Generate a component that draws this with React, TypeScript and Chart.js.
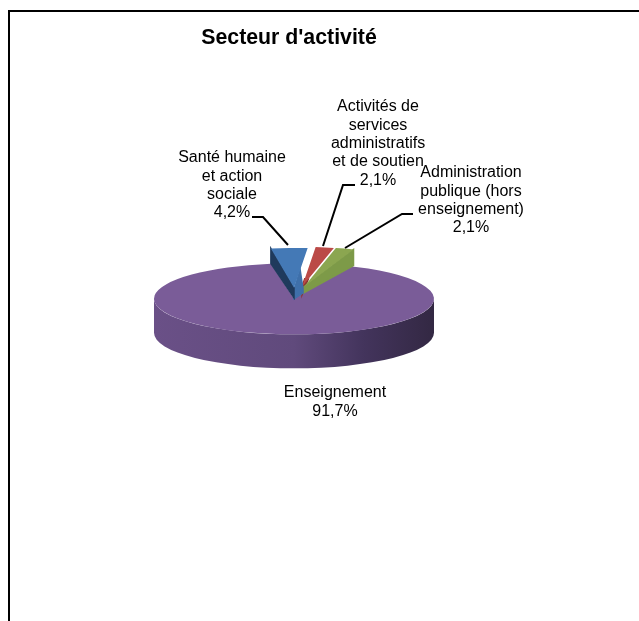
import React, { useEffect, useRef } from "react";
import { Chart, registerables } from "chart.js";

Chart.register(...registerables);

// ---- data ----
const titleText = "Secteur d'activité";
const sectorLabels = [
  ["Santé humaine", "et action", "sociale"],
  ["Activités de", "services", "administratifs", "et de soutien"],
  ["Administration", "publique (hors", "enseignement)"],
  ["Enseignement"],
];
const shareValues = [4.2, 2.1, 2.1, 91.7];
const sliceColors = ["#4479b6", "#bb4a47", "#8ba650", "#7a5c98"];
const faceColors = ["#1f3a5c", "#8a3532", "#7d9a48", "#5f4878"];

// ---- layout (not data) ----
const FONT = '"Liberation Sans", Arial, sans-serif';
const PIE_SHIFT_X = 5;
const TILT = 0.254;
const WEDGE_TILT = 0.285;
const RIM_DEPTH = 34;
const wedgeShift = [[0, -11], [8, -12], [10, -12]];
const wedgeOuterDepth = [15, 0, 16];
const wedgeApexDepth = [10, 8, 6];
const labelAnchors = [
  { x: 232, y: 158 },
  { x: 378, y: 107 },
  { x: 471, y: 173 },
  { x: 335, y: 393 },
];
const LINE_STEP = 18.3;
const leaders = [
  [[252, 217], [263, 217], [288, 245]],
  [[355, 185], [343, 185], [323, 246]],
  [[413, 214], [402, 214], [345, 248]],
];

const pie3d = {
  id: "pie3d",
  beforeDatasetDraw(chart: any) {
    const ctx = chart.ctx;
    const arcs = chart.getDatasetMeta(0).data;
    const main = arcs[3];
    const { x, y, outerRadius: R } = main;

    ctx.save();
    ctx.translate(PIE_SHIFT_X, 0);

    // outer rim of the big slice (front half only)
    const g = ctx.createLinearGradient(x - R, 0, x + R, 0);
    g.addColorStop(0, "#6a5087");
    g.addColorStop(0.5, "#604a7c");
    g.addColorStop(0.75, "#43345c");
    g.addColorStop(1, "#332843");
    ctx.beginPath();
    ctx.ellipse(x, y, R, R * TILT, 0, 0, Math.PI);
    ctx.lineTo(x - R, y + RIM_DEPTH);
    ctx.ellipse(x, y + RIM_DEPTH, R, R * TILT, 0, Math.PI, 0, true);
    ctx.closePath();
    ctx.fillStyle = g;
    ctx.fill();

    // top of big slice
    ctx.save();
    ctx.translate(x, y);
    ctx.scale(1, TILT);
    ctx.translate(-x, -y);
    main.draw(ctx);
    ctx.restore();

    const poly = (pts: number[][], color: string) => {
      ctx.beginPath();
      pts.forEach(([px, py], j) => (j ? ctx.lineTo(px, py) : ctx.moveTo(px, py)));
      ctx.closePath();
      ctx.fillStyle = color;
      ctx.strokeStyle = color;
      ctx.lineWidth = 1.5;
      ctx.fill();
      ctx.stroke();
    };

    // exploded wedges, back to front
    [1, 2, 0].forEach((i) => {
      const arc = arcs[i];
      const ax = arc.x + wedgeShift[i][0];
      const ay = arc.y + wedgeShift[i][1];
      const edge = (angle: number, r: number) => [
        ax + Math.cos(angle) * r,
        ay + Math.sin(angle) * r * WEDGE_TILT,
      ];
      const aD = wedgeApexDepth[i];
      const oD = wedgeOuterDepth[i];
      if (i === 0) {
        const o = edge(arc.startAngle, R);
        poly([[ax, ay + 2], edge(arc.endAngle, R * 0.45), [ax + 9, ay + 1], [ax + 9, ay + 5], [ax, ay + aD + 1]], "#3f70aa");
        poly([[ax, ay], o, [o[0], o[1] + oD], [ax, ay + aD]], faceColors[0]);
      } else if (i === 2) {
        const o = edge(arc.endAngle, R);
        poly([[ax, ay], o, [o[0], o[1] + oD], [ax, ay + aD]], faceColors[2]);
      } else {
        poly([[ax, ay], edge(arc.startAngle, R * 0.2), edge(arc.endAngle, R * 0.2), [ax, ay + aD]], faceColors[1]);
      }
      ctx.save();
      ctx.translate(ax, ay);
      ctx.scale(1, WEDGE_TILT);
      ctx.translate(-arc.x, -arc.y);
      arc.draw(ctx);
      ctx.restore();
    });
    ctx.restore();
    return false;
  },
  afterDraw(chart: any) {
    const ctx = chart.ctx;
    ctx.save();
    ctx.strokeStyle = "#000";
    ctx.lineWidth = 2;
    leaders.forEach((pts) => {
      ctx.beginPath();
      pts.forEach(([px, py], j) => (j ? ctx.lineTo(px, py) : ctx.moveTo(px, py)));
      ctx.stroke();
    });
    ctx.fillStyle = "#000";
    ctx.font = `16px ${FONT}`;
    ctx.textAlign = "center";
    ctx.textBaseline = "middle";
    sectorLabels.forEach((lines, i) => {
      const pct = shareValues[i].toFixed(1).replace(".", ",") + "%";
      [...lines, pct].forEach((t, j) => {
        ctx.fillText(t, labelAnchors[i].x, labelAnchors[i].y + j * LINE_STEP);
      });
    });
    ctx.restore();
  },
};

export default function App() {
  const ref = useRef<HTMLCanvasElement>(null);
  useEffect(() => {
    const chart = new Chart(ref.current!, {
      type: "pie",
      data: {
        labels: sectorLabels.map((l) => l.join(" ")),
        datasets: [
          { data: shareValues, backgroundColor: sliceColors, borderWidth: 0 },
        ],
      },
      options: {
        animation: false,
        responsive: false,
        rotation: -9.5,
        layout: { padding: { left: 149, right: 149, top: 0, bottom: 182 } },
        plugins: {
          legend: { display: false },
          tooltip: { enabled: false },
          title: {
            display: true,
            text: titleText,
            color: "#000",
            font: { family: FONT, size: 21.3, weight: "bold" },
            padding: { top: 25, bottom: 108 },
          },
        },
      },
      plugins: [pie3d],
    } as any);
    return () => chart.destroy();
  }, []);
  return (
    <div style={{ position: "absolute", left: 0, top: 0, width: 639, height: 621, overflow: "hidden", background: "#fff" }}>
      <div style={{ position: "absolute", left: 8, top: 10, width: 631, height: 611, boxSizing: "border-box", borderTop: "2px solid #000", borderLeft: "2px solid #000" }} />
      <canvas ref={ref} width={578} height={621} style={{ position: "absolute", left: 0, top: 0, display: "block" }} />
    </div>
  );
}
